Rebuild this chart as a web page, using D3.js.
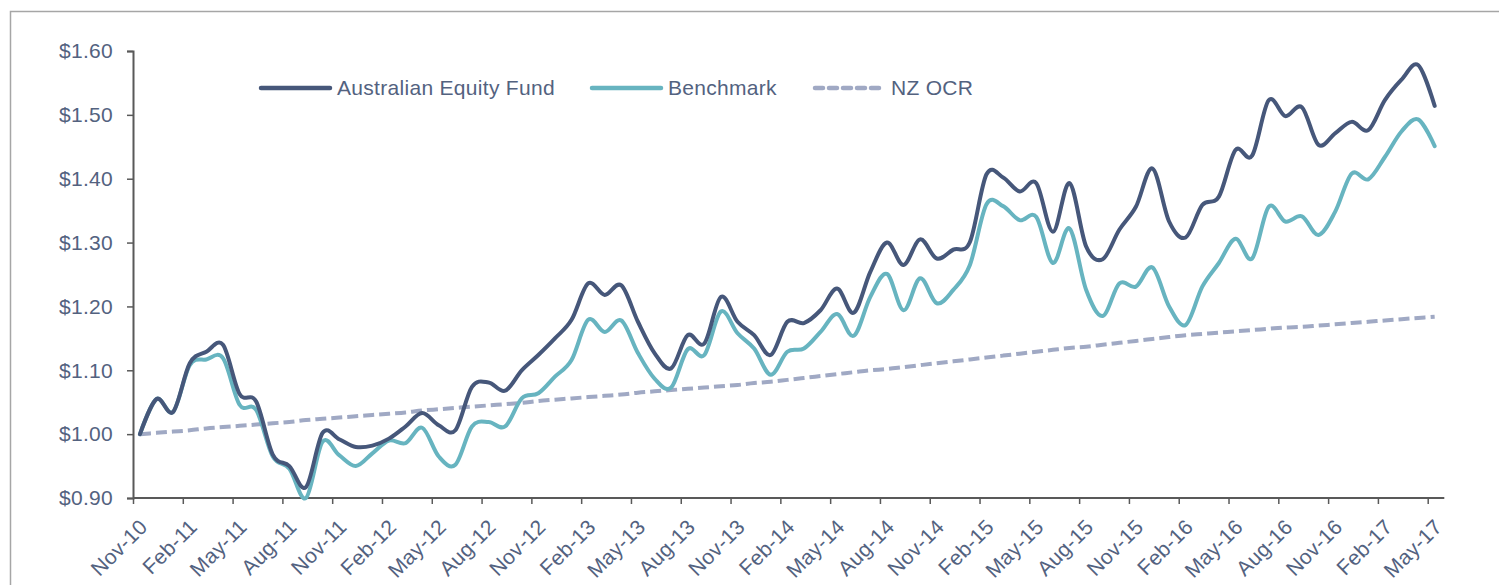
<!DOCTYPE html>
<html>
<head>
<meta charset="utf-8">
<script src="https://cdn.jsdelivr.net/npm/d3@7"></script>
<style>
  html, body { margin: 0; padding: 0; background: #fff; }
  svg { display: block; font-family: "Liberation Sans", Arial, sans-serif; }
</style>
</head>
<body>
<svg id="chart" width="1499" height="585"></svg>
<script>
// month labels shown on the axis (every 3rd month from Nov-10)
const tickLabels = [
  'Nov-10', 'Feb-11', 'May-11', 'Aug-11', 'Nov-11', 'Feb-12', 'May-12', 'Aug-12', 'Nov-12',
  'Feb-13', 'May-13', 'Aug-13', 'Nov-13', 'Feb-14', 'May-14', 'Aug-14', 'Nov-14',
  'Feb-15', 'May-15', 'Aug-15', 'Nov-15', 'Feb-16', 'May-16', 'Aug-16', 'Nov-16',
  'Feb-17', 'May-17',
];

// monthly values, Nov-10 .. May-17
const fund = [
  1.000, 1.055, 1.035, 1.111, 1.129, 1.140, 1.063, 1.051, 0.968, 0.950,
  0.917, 1.002, 0.992, 0.980, 0.982, 0.993, 1.012, 1.033, 1.014, 1.006,
  1.074, 1.081, 1.068, 1.100, 1.124, 1.150, 1.179, 1.236, 1.218, 1.233,
  1.176, 1.127, 1.103, 1.155, 1.142, 1.215, 1.176, 1.155, 1.124, 1.176,
  1.174, 1.194, 1.228, 1.190, 1.254, 1.300, 1.265, 1.305, 1.275, 1.289,
  1.301, 1.407, 1.402, 1.380, 1.393, 1.317, 1.393, 1.294, 1.274, 1.320,
  1.356, 1.416, 1.333, 1.308, 1.359, 1.372, 1.445, 1.436, 1.523, 1.498,
  1.512, 1.453, 1.471, 1.489, 1.476, 1.523, 1.555, 1.578, 1.514,
];

const benchmark = [
  1.000, 1.055, 1.035, 1.108, 1.117, 1.119, 1.046, 1.038, 0.965, 0.946,
  0.900, 0.988, 0.967, 0.950, 0.970, 0.990, 0.986, 1.010, 0.965, 0.952,
  1.012, 1.019, 1.012, 1.056, 1.064, 1.090, 1.116, 1.179, 1.160, 1.178,
  1.127, 1.087, 1.073, 1.133, 1.124, 1.192, 1.158, 1.134, 1.093, 1.129,
  1.134, 1.160, 1.188, 1.154, 1.215, 1.251, 1.194, 1.244, 1.205, 1.226,
  1.265, 1.360, 1.357, 1.335, 1.340, 1.268, 1.322, 1.226, 1.185, 1.236,
  1.231, 1.261, 1.200, 1.171, 1.231, 1.268, 1.306, 1.275, 1.356, 1.333,
  1.341, 1.312, 1.348, 1.408, 1.399, 1.434, 1.474, 1.493, 1.451,
];

const nzOcr = [
  1.000, 1.002, 1.004, 1.006, 1.009, 1.011, 1.013, 1.015, 1.017, 1.019,
  1.022, 1.024, 1.026, 1.028, 1.030, 1.032, 1.034, 1.037, 1.039, 1.041,
  1.043, 1.045, 1.047, 1.049, 1.052, 1.054, 1.056, 1.058, 1.060, 1.062,
  1.065, 1.067, 1.069, 1.071, 1.073, 1.075, 1.077, 1.080, 1.082, 1.085,
  1.088, 1.091, 1.094, 1.097, 1.100, 1.102, 1.105, 1.108, 1.111, 1.114,
  1.117, 1.120, 1.123, 1.126, 1.129, 1.132, 1.135, 1.137, 1.140, 1.143,
  1.146, 1.149, 1.152, 1.155, 1.157, 1.159, 1.161, 1.163, 1.165, 1.167,
  1.168, 1.170, 1.172, 1.174, 1.176, 1.178, 1.180, 1.182, 1.184,
];

const yTicks = [0.9, 1.0, 1.1, 1.2, 1.3, 1.4, 1.5, 1.6];

const series = [
  { name: 'Australian Equity Fund', values: fund, color: '#46577a', dash: null },
  { name: 'Benchmark', values: benchmark, color: '#67b4c0', dash: null },
  { name: 'NZ OCR', values: nzOcr, color: '#a0a9c4', dash: '11 5' },
];

const textColor = '#53627f';
const axisColor = '#595959';
const fontSize = '21px';
const spacing = '0.3px';

const svg = d3.select('#chart');

// outer frame
svg.append('path')
  .attr('d', 'M10.5,600 L10.5,11.5 L1510,11.5')
  .attr('fill', 'none')
  .attr('stroke', '#a6a6a6')
  .attr('stroke-width', 1.5);

// month index scale: 0 = Nov-10 tick, data sits slightly right of its tick
const x = d3.scaleLinear().domain([0, 79]).range([133, 1444.3]);
const y = d3.scaleLinear().domain([0.9, 1.6]).range([498, 51]);
const pointOffset = 0.42;

// y axis
const yAxis = svg.append('g')
  .attr('transform', 'translate(133,0)')
  .call(d3.axisLeft(y).tickValues(yTicks).tickSize(6).tickPadding(14)
    .tickFormat(d => '$' + d.toFixed(2)));
yAxis.select('.domain').attr('stroke', axisColor).attr('stroke-width', 2);
yAxis.selectAll('.tick line').attr('stroke', axisColor).attr('stroke-width', 1.5);
yAxis.selectAll('.tick text')
  .attr('fill', textColor)
  .style('font-size', fontSize)
  .style('letter-spacing', spacing);

// x axis
const xAxis = svg.append('g')
  .attr('transform', 'translate(0,498)')
  .call(d3.axisBottom(x).tickValues(d3.range(0, 79, 3)).tickSize(6)
    .tickFormat((d, i) => tickLabels[i]));
xAxis.select('.domain').attr('stroke', axisColor).attr('stroke-width', 2)
  .attr('d', 'M' + x(0) + ',0H' + x(79));
xAxis.selectAll('.tick line').attr('stroke', axisColor).attr('stroke-width', 1.5);
xAxis.selectAll('.tick text')
  .attr('fill', textColor)
  .style('font-size', fontSize)
  .style('letter-spacing', spacing)
  .attr('text-anchor', 'end')
  .attr('dy', '0.35em')
  .attr('y', 0)
  .attr('transform', 'translate(10,25) rotate(-45)');

// lines
const line = d3.line()
  .x((d, i) => x(i + pointOffset))
  .y(d => y(d))
  .curve(d3.curveCardinal.tension(0));

svg.append('g')
  .selectAll('path')
  .data(series.slice().reverse())
  .enter()
  .append('path')
  .attr('d', d => line(d.values))
  .attr('fill', 'none')
  .attr('stroke', d => d.color)
  .attr('stroke-width', 4)
  .attr('stroke-dasharray', d => d.dash)
  .attr('stroke-linejoin', 'round')
  .attr('stroke-linecap', d => (d.dash ? 'butt' : 'round'));

// legend
const legendX = [261, 592, 815];
const legend = svg.append('g')
  .selectAll('g')
  .data(series)
  .enter()
  .append('g')
  .attr('transform', (d, i) => 'translate(' + legendX[i] + ',88)');

legend.append('line')
  .attr('x1', 0)
  .attr('x2', 69)
  .attr('stroke', d => d.color)
  .attr('stroke-width', 4.5)
  .attr('stroke-linecap', 'round')
  .attr('stroke-dasharray', d => (d.dash ? '8 6' : null));

legend.append('text')
  .attr('x', 76)
  .attr('dy', '0.35em')
  .attr('fill', textColor)
  .style('font-size', fontSize)
  .style('letter-spacing', spacing)
  .text(d => d.name);
</script>
</body>
</html>
